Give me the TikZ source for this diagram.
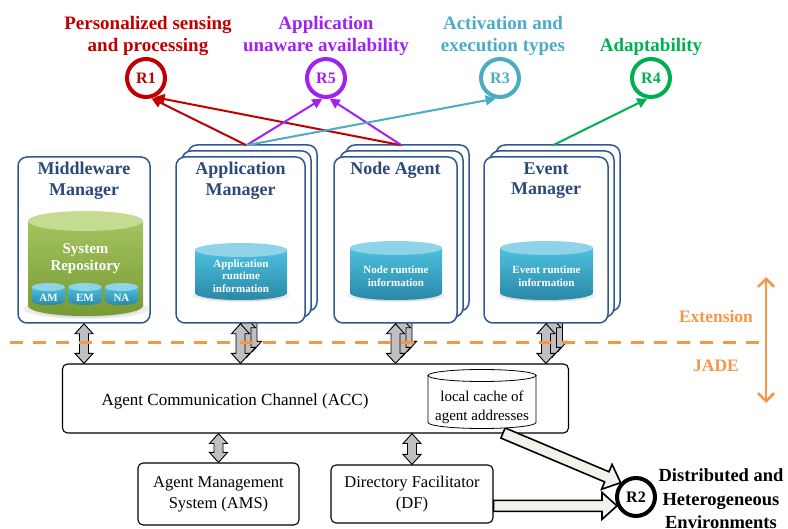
\documentclass[tikz,border=0pt]{standalone}
\usepackage{fontspec}
\setmainfont{Liberation Serif}
\usetikzlibrary{calc,arrows.meta}

\definecolor{reqred}{HTML}{C00000}
\definecolor{reqpurple}{HTML}{A121F2}
\definecolor{reqteal}{HTML}{4BACC6}
\definecolor{reqgreen}{HTML}{00B050}
\definecolor{navytext}{HTML}{2B4A7C}
\definecolor{cardline}{HTML}{2F5890}
\definecolor{layerorange}{HTML}{F79646}
\definecolor{blockgray}{HTML}{BFBFBF}
\definecolor{shaftfill}{HTML}{F2F2EA}
\definecolor{dbtop}{HTML}{8FD3E8}
\definecolor{dbbodyA}{HTML}{4DC0DE}
\definecolor{dbbodyB}{HTML}{2A88A8}
\definecolor{repotop}{HTML}{C5DB92}
\definecolor{repobodyA}{HTML}{A3C35E}
\definecolor{repobodyB}{HTML}{779A35}

% soft drop shadow under a cylinder: centre, half width, half height
\newcommand\drumshadow[3]{%
  \foreach \g in {1.0,0.85,0.7}{%
    \fill[black, opacity=0.07] (#1) ellipse[x radius=#2*\g+3, y radius=#3*\g+1];
  }
}
% cylinder: name, centre, width, height between end centres, end radius, body style, end style
\newcommand\drum[7]{%
  \node[minimum width=#3pt, minimum height=#4pt, inner sep=0pt, outer sep=0pt] (#1) at (#2) {};
  \path[#6] (#1.north west) -- (#1.south west)
     arc[start angle=180, end angle=0, x radius=#3/2, y radius=#5]
     -- (#1.north east) -- cycle;
  \path[#7] (#1.north) ellipse[x radius=#3/2, y radius=#5];
}
% grey two-headed block arrow from #1 (top) to #2 (bottom)
\newcommand\gdblarrow[2]{%
  \draw[gdbl] (#1) -- ++(9,10) -- ++(-4.5,0) -- ($(#2)+(4.5,-10)$) -- ++(4.5,0)
     -- (#2) -- ++(-9,-10) -- ++(4.5,0) -- ($(#1)+(-4.5,10)$) -- ++(-4.5,0) -- cycle;
}
% arrow below one card of a stack, raised by #2
\newcommand\layerarrow[2]{%
  \coordinate (la-a) at (#1.south);
  \coordinate (la-b) at ($(#1.south |- acc.north)+(0,-#2)$);
  \gdblarrow{la-a}{la-b}
}
% wide hollow block arrow from #1 (tail) to #2 (tip)
\newcommand\fatarrow[2]{%
  \coordinate (fa-b) at ($(#2)!15pt!(#1)$);
  \draw[warrow] ($(#1)!5.5pt!90:(#2)$) -- ($(fa-b)!5.5pt!90:(#2)$)
     -- ($(fa-b)!13.5pt!90:(#2)$) -- (#2) -- ($(fa-b)!13.5pt!-90:(#2)$)
     -- ($(fa-b)!5.5pt!-90:(#2)$) -- ($(#1)!5.5pt!-90:(#2)$) -- cycle;
}

\begin{document}
\begin{tikzpicture}[x=1pt, y=-1pt,
  card/.style={draw=cardline, line width=1.5pt, rounded corners=9pt, fill=white,
    minimum height=166pt, inner sep=0pt},
  cardtitle/.style={anchor=north, text=navytext, align=center,
    font=\bfseries\fontsize{18}{20.5}\selectfont, inner sep=0pt},
  reqtext/.style={align=center, font=\bfseries\fontsize{19}{22}\selectfont},
  reqring/.style={circle, line width=4pt, minimum size=38pt, inner sep=0pt, fill=white,
    font=\bfseries\fontsize{16}{16}\selectfont},
  reqlink/.style={line width=2pt, -{Triangle[length=10pt,width=10pt]}},
  gdbl/.style={draw=black, fill=blockgray, line width=0.9pt, line join=miter},
  warrow/.style={draw=black, fill=shaftfill, line width=1.6pt, line join=miter},
  jadebox/.style={draw=black, line width=1.1pt, rounded corners=5pt, fill=white,
    inner sep=0pt, align=center, font=\fontsize{16.5}{21}\selectfont},
  dbbody/.style={top color=dbbodyA, bottom color=dbbodyB},
  dbend/.style={fill=dbtop},
  repobody/.style={top color=repobodyA, bottom color=repobodyB},
  repoend/.style={fill=repotop},
  cachebody/.style={draw=black, fill=white, line width=0.8pt},
  dblabel/.style={text=white, align=center, font=\bfseries\fontsize{11}{12.5}\selectfont},
  layerlabel/.style={text=layerorange, font=\bfseries\fontsize{17.5}{17.5}\selectfont},
]
\useasboundingbox (0,0) rectangle (788,529);

% ---------- JADE platform ----------
\node[jadebox, minimum width=506pt, minimum height=69pt] (acc) at (315.5,398.5) {};
\node[font=\fontsize{17}{20}\selectfont] (acclabel) at (235,401)
  {Agent Communication\ Channel (ACC)};
\node[jadebox, minimum width=161pt, minimum height=62pt] (ams) at (218.5,494)
  {Agent Management\\System (AMS)};
\node[jadebox, minimum width=162pt, minimum height=58pt] (df) at (412,494)
  {Directory Facilitator\\(DF)};

\coordinate (amsA) at (ams.north |- acc.south);
\gdblarrow{amsA}{ams.north}
\coordinate (dfA) at (df.north |- acc.south);
\gdblarrow{dfA}{df.north}

% ---------- extension agents ----------
\node[card, minimum width=132pt] (mm) at (84,240) {};
\node[cardtitle] at ($(mm.north)+(0,6)$) {Middleware\\Manager};
\layerarrow{mm}{0}

% application manager stack
\node[card, minimum width=129pt] (app2) at (252.5,228) {};
\layerarrow{app2}{12}
\node[card, minimum width=129pt] (app1) at (246.5,234) {};
\layerarrow{app1}{6}
\node[card, minimum width=129pt] (app) at (240.5,240) {};
\node[cardtitle] at ($(app.north)+(0,6)$) {Application\\Manager};
\layerarrow{app}{0}

% node agent stack
\node[card, minimum width=123pt] (na2) at (407.5,228) {};
\layerarrow{na2}{12}
\node[card, minimum width=123pt] (na1) at (401.5,234) {};
\layerarrow{na1}{6}
\node[card, minimum width=123pt] (na) at (395.5,240) {};
\node[cardtitle] at ($(na.north)+(0,6)$) {Node Agent};
\layerarrow{na}{0}

% event manager stack
\node[card, minimum width=124pt] (ev2) at (558,228) {};
\layerarrow{ev2}{12}
\node[card, minimum width=124pt] (ev1) at (552,234) {};
\layerarrow{ev1}{6}
\node[card, minimum width=124pt] (ev) at (546,240) {};
\node[cardtitle] at ($(ev.north)+(0,6)$) {Event\\Manager};
\layerarrow{ev}{0}

% boundary between the extension and JADE
\coordinate (dashL) at (10,343);
\coordinate (dashR) at (766,343);
\draw[layerorange, line width=3pt, dash pattern=on 13pt off 10pt] (dashL) -- (dashR);
\coordinate (extTop) at (766,277);
\coordinate (extBot) at (766,403);
\draw[layerorange, line width=2.6pt,
  {Straight Barb[length=8pt,width=16pt]}-{Straight Barb[length=8pt,width=16pt]}]
  (extTop) -- (extBot);
\node[layerlabel] at (716,317) {Extension};
\node[layerlabel] at (716,366) {JADE};

% ---------- repositories ----------
\drumshadow{86,309}{60}{9}
\drum{repo}{85.5,263.5}{115}{85}{10}{repobody}{repoend}
\node[text=white, align=center, font=\bfseries\fontsize{15}{17}\selectfont] at (85.5,258.5)
  {System\\Repository};
\drum{amdb}{48.5,294}{33}{14}{4}{dbbody}{dbend}
\node[dblabel] at (48.5,298) {AM};
\drum{emdb}{85,294}{33}{14}{4}{dbbody}{dbend}
\node[dblabel] at (85,298) {EM};
\drum{nadbs}{121.5,294}{33}{14}{4}{dbbody}{dbend}
\node[dblabel] at (121.5,298) {NA};

\drumshadow{241,296}{46}{5}
\drum{appdb}{241,271.5}{92}{43}{7}{dbbody}{dbend}
\node[dblabel] at (241,276) {Application\\runtime\\information};
\drumshadow{396,296}{46}{5}
\drum{nadb}{396,270.5}{92}{45}{7}{dbbody}{dbend}
\node[dblabel] at (396,276) {Node runtime\\information};
\drumshadow{546.5,296}{46}{5}
\drum{evdb}{546.5,270.5}{93}{45}{7}{dbbody}{dbend}
\node[dblabel] at (546.5,276) {Event runtime\\information};

% ---------- requirements ----------
\node[reqring, draw=reqred, text=reqred] (r1) at (146,78) {R1};
\node[reqring, draw=reqpurple, text=reqpurple] (r5) at (326,78) {R5};
\node[reqring, draw=reqteal, text=reqteal] (r3) at (500,78) {R3};
\node[reqring, draw=reqgreen, text=reqgreen] (r4) at (651,78) {R4};

\node[reqtext, text=reqred] at (148,36) {Personalized sensing\\and processing};
\node[reqtext, text=reqpurple] at (326,36) {Application\\unaware availability};
\node[reqtext, text=reqteal] at (503,36) {Activation and\\execution types};
\node[reqtext, text=reqgreen] at (651,47) {Adaptability};

\coordinate (appTop) at ($(app2.north)+(-6,1)$);
\coordinate (naTop) at ($(na2.north)+(-6,1)$);
\coordinate (evTop) at ($(ev2.north)+(-5,1)$);
\draw[reqlink, reqred] (appTop) -- (r1.-75);
\draw[reqlink, reqred] (naTop) -- (r1.-66);
\draw[reqlink, reqpurple] (appTop) -- (r5.-100);
\draw[reqlink, reqpurple] (naTop) -- (r5.-80);
\draw[reqlink, reqteal] (appTop) -- (r3.-102);
\draw[reqlink, reqgreen] (evTop) -- (r4.-100);

% ---------- distribution requirement ----------
\node[reqring, draw=black, text=black] (r2) at (636,497) {R2};
\node[reqtext, text=black, font=\bfseries\fontsize{18.5}{23.5}\selectfont] at (721,499)
  {Distributed and\\Heterogeneous\\Environments};
\coordinate (cacheTail) at (503,433);
\fatarrow{cacheTail}{r2.137}
\coordinate (dfTail) at (df.east |- r2.205);
\fatarrow{dfTail}{r2.205}

\drum{cache}{482,399}{108}{47}{6}{cachebody}{cachebody}
\node[align=center, font=\fontsize{15}{19}\selectfont] at (482,407.5)
  {local cache of\\agent addresses};
\end{tikzpicture}
\end{document}
